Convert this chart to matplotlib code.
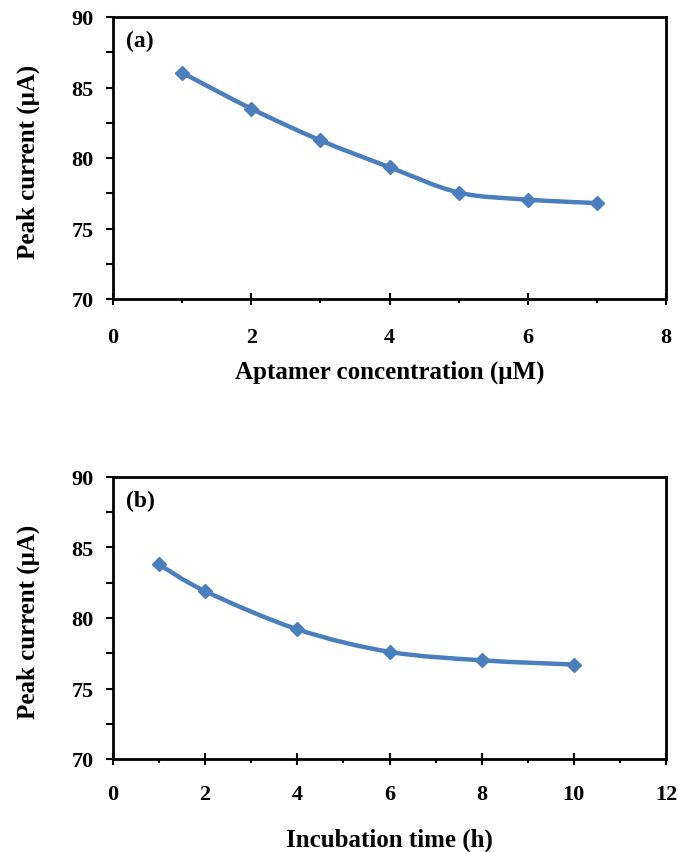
import numpy as np
import matplotlib
matplotlib.use('Agg')
import matplotlib.pyplot as plt
from matplotlib.path import Path
from matplotlib import patches
from matplotlib.ticker import MultipleLocator

# ===============================================================================
# data

conc_a = [1, 2, 3, 4, 5, 6, 7]
current_a = [86.05, 83.5, 81.25, 79.35, 77.55, 77.05, 76.8]

time_b = [1, 2, 4, 6, 8, 10]
current_b = [83.8, 81.9, 79.2, 77.6, 77.0, 76.7]

blue = '#4A7EBD'

plt.rcParams['font.family'] = 'Liberation Serif'
plt.rcParams['font.weight'] = 'bold'

# ===============================================================================

def smoothPath(xs, ys, t=1/6.):
    # excel style smoothed line as cubic bezier segments
    xs = np.asarray(xs, float)
    ys = np.asarray(ys, float)
    n = len(xs)
    verts = [(xs[0], ys[0])]
    codes = [Path.MOVETO]
    for i in range(n - 1):
        x0, y0 = (xs[i - 1], ys[i - 1]) if i > 0 else (xs[i], ys[i])
        x3, y3 = (xs[i + 2], ys[i + 2]) if i + 2 < n else (xs[i + 1], ys[i + 1])
        c1 = (xs[i] + (xs[i + 1] - x0) * t, ys[i] + (ys[i + 1] - y0) * t)
        c2 = (xs[i + 1] - (x3 - xs[i]) * t, ys[i + 1] - (y3 - ys[i]) * t)
        verts += [c1, c2, (xs[i + 1], ys[i + 1])]
        codes += [Path.CURVE4] * 3
    return Path(verts, codes)


def drawPanel(ax, xs, ys, xmax, xlabel, tag, xlab_y, xpad):
    ax.add_patch(patches.PathPatch(smoothPath(xs, ys), fill=False, ec=blue, lw=3.2,
                                   capstyle='round', zorder=2))
    ax.plot(xs, ys, ls='none', marker='D', ms=7.5, color=blue, zorder=3)
    ax.set_xlim(0, xmax)
    ax.set_ylim(70, 90)
    ax.xaxis.set_major_locator(MultipleLocator(2))
    ax.xaxis.set_minor_locator(MultipleLocator(1))
    ax.yaxis.set_major_locator(MultipleLocator(5))
    ax.yaxis.set_minor_locator(MultipleLocator(2.5))
    ax.tick_params(axis='x', which='major', direction='inout', length=8, width=1.5,
                   labelsize=16, pad=xpad)
    ax.tick_params(axis='x', which='minor', direction='out', length=3, width=1.5)
    ax.tick_params(axis='y', which='major', direction='out', length=5, width=1.5,
                   labelsize=16, pad=9)
    ax.tick_params(axis='y', which='minor', direction='out', length=5, width=1.5)
    for s in ax.spines.values():
        s.set_linewidth(2)
    ax.set_ylabel('Peak current (μA)', fontsize=18, fontweight='bold')
    ax.yaxis.set_label_coords(-0.153, 0.49)
    ax.yaxis.label.set_va('center')
    ax.set_xlabel(xlabel, fontsize=18, fontweight='bold')
    ax.xaxis.set_label_coords(0.5, xlab_y)
    ax.xaxis.label.set_va('center')
    ax.text(0.024, 0.955, tag, transform=ax.transAxes, fontsize=17, fontweight='bold',
            va='top', ha='left')


fig = plt.figure(figsize=(6.78, 8.53), dpi=100)
ax_a = fig.add_axes([113 / 678, 1 - 300 / 853, 553 / 678, 282 / 853])
ax_b = fig.add_axes([113 / 678, 1 - 760 / 853, 553 / 678, 282 / 853])

drawPanel(ax_a, conc_a, current_a, 8, 'Aptamer concentration (μM)', '(a)', -0.255, 16)
drawPanel(ax_b, time_b, current_b, 12, 'Incubation time (h)', '(b)', -0.284, 14)

fig.savefig('out.png', dpi=100)
plt.close()
